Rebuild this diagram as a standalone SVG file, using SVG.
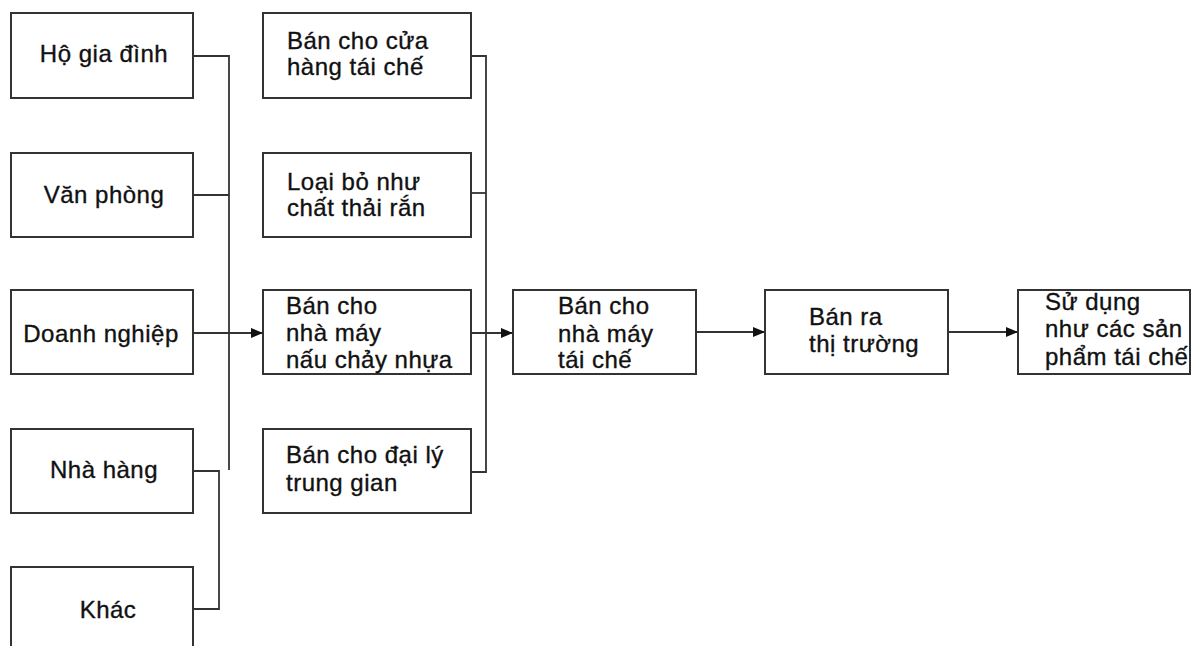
<svg xmlns="http://www.w3.org/2000/svg" width="1193" height="646" viewBox="0 0 1193 646">
<defs>
<style>
.box{fill:#fff;stroke:#333;stroke-width:2}
.ln{fill:none;stroke:#333;stroke-width:1.8}
text{font-family:"Liberation Sans",Arial,sans-serif;font-size:24px;letter-spacing:0.5px;fill:#111;stroke:#111;stroke-width:0.35}
.c{text-anchor:middle}
</style>
<marker id="ah" viewBox="0 0 12 10" refX="12" refY="5" markerWidth="12" markerHeight="10" markerUnits="userSpaceOnUse" orient="auto">
<path d="M0,0 L12,5 L0,10 Z" fill="#111"/>
</marker>
</defs>
<rect width="1193" height="646" fill="#fff"/>
<g id="connectors">
<polyline class="ln" points="193,56 229,56 229,470"/>
<line class="ln" x1="193" y1="195" x2="229" y2="195"/>
<line class="ln" x1="193" y1="333" x2="263" y2="333" marker-end="url(#ah)"/>
<polyline class="ln" points="193,471 219,471 219,609 193,609"/>
<polyline class="ln" points="471,56 486,56 486,472 471,472"/>
<line class="ln" x1="471" y1="193" x2="486" y2="193"/>
<line class="ln" x1="471" y1="333" x2="513" y2="333" marker-end="url(#ah)"/>
<line class="ln" x1="696" y1="332" x2="765" y2="332" marker-end="url(#ah)"/>
<line class="ln" x1="948" y1="332" x2="1018" y2="332" marker-end="url(#ah)"/>
</g>
<g id="ho-gia-dinh"><rect class="box" x="11" y="13" width="182" height="85"/><text class="c" x="104" y="62">Hộ gia đình</text></g>
<g id="van-phong"><rect class="box" x="11" y="153" width="182" height="84"/><text class="c" x="104" y="203">Văn phòng</text></g>
<g id="doanh-nghiep"><rect class="box" x="11" y="290" width="182" height="84"/><text class="c" x="101" y="342">Doanh nghiệp</text></g>
<g id="nha-hang"><rect class="box" x="11" y="429" width="182" height="84"/><text class="c" x="104" y="478">Nhà hàng</text></g>
<g id="khac"><rect class="box" x="11" y="567" width="182" height="100"/><text class="c" x="108" y="618">Khác</text></g>
<g id="ban-cua-hang"><rect class="box" x="263" y="13" width="208" height="85"/><text x="287" y="49">Bán cho cửa</text><text x="287" y="75">hàng tái chế</text></g>
<g id="loai-bo"><rect class="box" x="263" y="153" width="208" height="84"/><text x="287" y="190">Loại bỏ như</text><text x="287" y="216">chất thải rắn</text></g>
<g id="nau-chay"><rect class="box" x="263" y="290" width="208" height="84"/><text x="286" y="314">Bán cho</text><text x="286" y="341">nhà máy</text><text x="286" y="368">nấu chảy nhựa</text></g>
<g id="dai-ly"><rect class="box" x="263" y="429" width="208" height="84"/><text x="286" y="463">Bán cho đại lý</text><text x="286" y="491">trung gian</text></g>
<g id="tai-che"><rect class="box" x="513" y="290" width="183" height="84"/><text x="558" y="314">Bán cho</text><text x="558" y="342">nhà máy</text><text x="558" y="368">tái chế</text></g>
<g id="ban-ra"><rect class="box" x="765" y="290" width="183" height="84"/><text x="809" y="325">Bán ra</text><text x="809" y="352">thị trường</text></g>
<g id="su-dung"><rect class="box" x="1018" y="290" width="172" height="84"/><text x="1045" y="310">Sử dụng</text><text x="1045" y="337">như các sản</text><text x="1045" y="365">phẩm tái chế</text></g>
</svg>
